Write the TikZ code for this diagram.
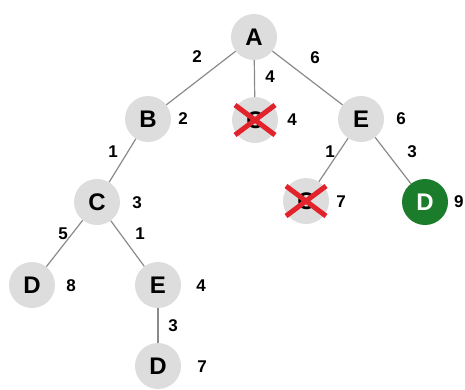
\documentclass[tikz,border=0pt]{standalone}
\usepackage{fontspec}
\setmainfont{Liberation Sans}
\definecolor{nodegray}{HTML}{DDDDDD}
\definecolor{edgegray}{HTML}{8A8A8A}
\definecolor{goalgreen}{HTML}{1B7D2C}
\definecolor{crossred}{HTML}{E3232C}
\tikzset{
  st/.style={circle,fill=nodegray,minimum size=46pt,inner sep=0pt,font=\fontsize{24}{24}\selectfont\bfseries},
  goal/.style={st,fill=goalgreen,text=white},
  lbl/.style={font=\fontsize{17}{17}\selectfont\bfseries,inner sep=0pt},
  edge/.style={draw=edgegray,line width=1.2pt},
  crossline/.style={draw=crossred,line width=5pt}
}
\begin{document}
\begin{tikzpicture}[x=1pt,y=-1pt]
\useasboundingbox (0,0) rectangle (465,389);
% nodes
\node[st] (A) at (254,37) {A};
\node[st] (B) at (148,119) {B};
\node[st] (X1) at (255,120) {C};
\node[st] (E1) at (361,119) {E};
\node[st] (X2) at (306,201) {C};
\node[goal] (G) at (425,202) {D};
\node[st] (C) at (97,202) {C};
\node[st] (D1) at (32,285) {D};
\node[st] (E2) at (158,285) {E};
\node[st] (D2) at (158,366) {D};
% edges
\draw[edge] (A) -- (B);
\draw[edge] (A) -- (X1);
\draw[edge] (A) -- (E1);
\draw[edge] (B) -- (C);
\draw[edge] (E1) -- (X2);
\draw[edge] (E1) -- (G);
\draw[edge] (C) -- (D1);
\draw[edge] (C) -- (E2);
\draw[edge] (E2) -- (D2);
% crosses
\draw[crossline] ([shift={(-20,-15)}]X1.center) -- ([shift={(20,15)}]X1.center);
\draw[crossline] ([shift={(-20,15)}]X1.center) -- ([shift={(20,-15)}]X1.center);
\draw[crossline] ([shift={(-20,-15)}]X2.center) -- ([shift={(20,15)}]X2.center);
\draw[crossline] ([shift={(-20,15)}]X2.center) -- ([shift={(20,-15)}]X2.center);
% edge labels
\node[lbl] (lAB) at (197,57) {2};
\node[lbl] (lAX) at (270,77) {4};
\node[lbl] (lAE) at (315,58) {6};
\node[lbl] (lBC) at (113,152) {1};
\node[lbl] (lEX) at (330,152) {1};
\node[lbl] (lEG) at (412,152) {3};
\node[lbl] (lCD) at (63,234) {5};
\node[lbl] (lCE) at (140,234) {1};
\node[lbl] (lED) at (173,326) {3};
% cost labels
\node[lbl] (cB) at (183,119) {2};
\node[lbl] (cX1) at (292,120) {4};
\node[lbl] (cE1) at (401,119) {6};
\node[lbl] (cX2) at (341,202) {7};
\node[lbl,anchor=west] (cG) at (454,202) {9};
\node[lbl] (cC) at (137,203) {3};
\node[lbl] (cD1) at (71,286) {8};
\node[lbl] (cE2) at (201,286) {4};
\node[lbl] (cD2) at (202,367) {7};
\end{tikzpicture}
\end{document}
